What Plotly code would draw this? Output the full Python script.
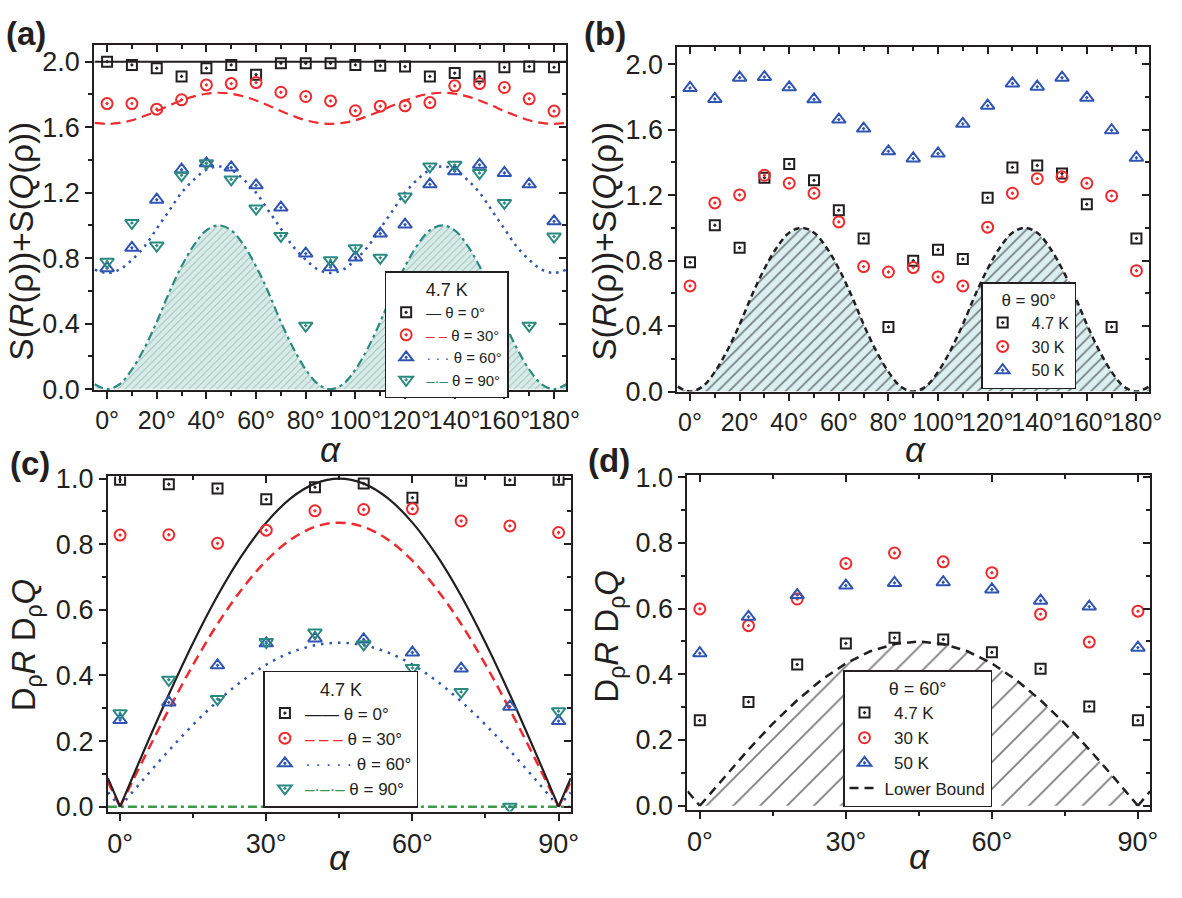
import plotly.graph_objects as go

# ---------------- data ----------------
alpha_ab = [0, 10, 20, 30, 40, 50, 60, 70, 80, 90, 100, 110, 120, 130, 140, 150, 160, 170, 180]
a_theta0 = [2.00, 1.98, 1.96, 1.91, 1.96, 1.98, 1.92, 1.99, 1.99, 1.99, 1.98, 1.975, 1.97, 1.91, 1.93, 1.91, 1.965, 1.97, 1.965]
a_theta30 = [1.744, 1.744, 1.71, 1.767, 1.858, 1.866, 1.872, 1.813, 1.787, 1.76, 1.70, 1.728, 1.73, 1.75, 1.852, 1.866, 1.842, 1.773, 1.698]
a_theta60 = [0.739, 0.863, 1.157, 1.34, 1.379, 1.354, 1.245, 1.109, 0.828, 0.745, 0.804, 0.95, 1.005, 1.251, 1.33, 1.37, 1.32, 1.251, 1.025]
a_theta90 = [0.778, 1.015, 0.877, 1.306, 1.379, 1.281, 1.103, 0.936, 0.388, 0.788, 0.861, 0.802, 1.176, 1.36, 1.37, 1.32, 1.137, 0.388, 0.932]

b_T47 = [0.789, 1.016, 0.878, 1.306, 1.39, 1.29, 1.108, 0.935, 0.394, 0.799, 0.866, 0.809, 1.183, 1.369, 1.381, 1.331, 1.144, 0.394, 0.935]
b_T30 = [0.645, 1.152, 1.201, 1.321, 1.272, 1.211, 1.036, 0.763, 0.730, 0.757, 0.700, 0.645, 1.004, 1.211, 1.30, 1.312, 1.272, 1.195, 0.738]
b_T50 = [1.854, 1.787, 1.917, 1.921, 1.858, 1.785, 1.661, 1.606, 1.467, 1.424, 1.454, 1.635, 1.746, 1.882, 1.862, 1.917, 1.795, 1.596, 1.428]

# theory curves for (a)/(b), sampled every 5 degrees
alpha_ab_fine = [-5, 0, 5, 10, 15, 20, 25, 30, 35, 40, 45, 50, 55, 60, 65, 70, 75, 80, 85, 90,
                 95, 100, 105, 110, 115, 120, 125, 130, 135, 140, 145, 150, 155, 160, 165, 170, 175, 180, 185]
a_line0_x = [-5, 185]
a_line0_y = [2.0, 2.0]
a_line30 = [1.626, 1.62, 1.626, 1.642, 1.668, 1.698, 1.732, 1.763, 1.788, 1.804, 1.81, 1.804, 1.788, 1.763, 1.732, 1.698, 1.668, 1.642, 1.626, 1.62,
            1.626, 1.642, 1.668, 1.698, 1.732, 1.763, 1.788, 1.804, 1.81, 1.804, 1.788, 1.763, 1.732, 1.698, 1.668, 1.642, 1.626, 1.62, 1.626]
a_line60 = [0.73, 0.71, 0.73, 0.79, 0.87, 0.98, 1.09, 1.20, 1.28, 1.34, 1.36, 1.34, 1.28, 1.20, 1.09, 0.98, 0.87, 0.79, 0.73, 0.71,
            0.73, 0.79, 0.87, 0.98, 1.09, 1.20, 1.28, 1.34, 1.36, 1.34, 1.28, 1.20, 1.09, 0.98, 0.87, 0.79, 0.73, 0.71, 0.73]
ab_bound = [0.03, 0.0, 0.03, 0.12, 0.25, 0.41, 0.59, 0.75, 0.88, 0.97, 1.0, 0.97, 0.88, 0.75, 0.59, 0.41, 0.25, 0.12, 0.03, 0.0,
            0.03, 0.12, 0.25, 0.41, 0.59, 0.75, 0.88, 0.97, 1.0, 0.97, 0.88, 0.75, 0.59, 0.41, 0.25, 0.12, 0.03, 0.0, 0.03]

alpha_cd = [0, 10, 20, 30, 40, 50, 60, 70, 80, 90]
c_theta0 = [0.997, 0.983, 0.970, 0.937, 0.974, 0.985, 0.942, 0.994, 0.996, 0.997]
c_theta30 = [0.828, 0.829, 0.803, 0.843, 0.902, 0.906, 0.908, 0.871, 0.856, 0.836]
c_theta60 = [0.264, 0.318, 0.431, 0.498, 0.513, 0.510, 0.470, 0.421, 0.305, 0.261]
c_theta90 = [0.285, 0.387, 0.328, 0.502, 0.531, 0.495, 0.423, 0.350, 0.0, 0.291]

d_T47 = [0.260, 0.316, 0.430, 0.494, 0.511, 0.506, 0.467, 0.417, 0.302, 0.260]
d_T30 = [0.599, 0.548, 0.629, 0.737, 0.769, 0.742, 0.709, 0.583, 0.498, 0.592]
d_T50 = [0.464, 0.575, 0.641, 0.670, 0.678, 0.680, 0.658, 0.624, 0.606, 0.481]

# theory curves for (c)/(d): edge pieces and main arch (gaps split the V corners)
alpha_cd_fine = [-2.5, 0, None, 0, 5, 10, 15, 20, 25, 30, 35, 40, 45, 50, 55, 60, 65, 70, 75, 80, 85, 90, None, 90, 92.5]
c_line0 = [0.087, 0.0, None, 0.0, 0.174, 0.342, 0.5, 0.643, 0.766, 0.866, 0.940, 0.985, 1.0, 0.985, 0.940, 0.866, 0.766, 0.643, 0.5, 0.342, 0.174, 0.0, None, 0.0, 0.087]
c_line30 = [0.075, 0.0, None, 0.0, 0.151, 0.296, 0.433, 0.557, 0.663, 0.75, 0.814, 0.853, 0.866, 0.853, 0.814, 0.75, 0.663, 0.557, 0.433, 0.296, 0.151, 0.0, None, 0.0, 0.075]
c_line60 = [0.044, 0.0, None, 0.0, 0.087, 0.171, 0.25, 0.321, 0.383, 0.433, 0.47, 0.492, 0.5, 0.492, 0.47, 0.433, 0.383, 0.321, 0.25, 0.171, 0.087, 0.0, None, 0.0, 0.044]
c_line90_x = [-2.5, 92.5]
c_line90_y = [0.0, 0.0]
d_lower_x = [0, 5, 10, 15, 20, 25, 30, 35, 40, 45, 50, 55, 60, 65, 70, 75, 80, 85, 90]
d_lower = [0.0, 0.087, 0.171, 0.25, 0.321, 0.383, 0.433, 0.47, 0.492, 0.5, 0.492, 0.47, 0.433, 0.383, 0.321, 0.25, 0.171, 0.087, 0.0]

# ticks
ab_xticks = [0, 20, 40, 60, 80, 100, 120, 140, 160, 180]
ab_xlabels = ["0°", "20°", "40°", "60°", "80°", "100°", "120°", "140°", "160°", "180°"]
ab_xminor = [10, 30, 50, 70, 90, 110, 130, 150, 170]
ab_yticks = [0.0, 0.4, 0.8, 1.2, 1.6, 2.0]
ab_ylabels = ["0.0", "0.4", "0.8", "1.2", "1.6", "2.0"]
ab_yminor = [0.2, 0.6, 1.0, 1.4, 1.8]
cd_xticks = [0, 30, 60, 90]
cd_xlabels = ["0°", "30°", "60°", "90°"]
cd_xminor = [15, 45, 75]
cd_yticks = [0.0, 0.2, 0.4, 0.6, 0.8, 1.0]
cd_ylabels = ["0.0", "0.2", "0.4", "0.6", "0.8", "1.0"]
cd_yminor = [0.1, 0.3, 0.5, 0.7, 0.9]

# ---------------- style ----------------
W, H = 1182, 898
FONT = "Liberation Sans, Arial, sans-serif"
BLACK = "#231f20"
RED = "#ee2a2e"
BLUE = "#2f54b2"
TEAL = "#2a8a80"
GREEN = "#3b9a4a"

fig = go.Figure()


def mk(symbol, color, size=11):
    return dict(symbol=symbol, size=size, color=color, line=dict(width=2, color=color))


SQ, CI, TU, TD = "square-open-dot", "circle-open-dot", "triangle-up-open-dot", "triangle-down-open-dot"


def lg(glyph, color, label):
    return '<span style="color:%s">%s</span> %s' % (color, glyph, label)


# ---- panel (a)
fig.add_trace(go.Scatter(x=alpha_ab_fine, y=ab_bound, mode="lines", line=dict(width=0, shape="spline"),
                         fill="tozeroy", fillcolor="#d6ece8",
                         fillpattern=dict(shape="/", fgcolor="#7a8c89", bgcolor="#d6ece8", size=5, solidity=0.18),
                         showlegend=False, hoverinfo="skip", xaxis="x", yaxis="y"))
fig.add_trace(go.Scatter(x=alpha_ab_fine, y=ab_bound, mode="lines",
                         line=dict(color=TEAL, width=2.2, dash="9px,4px,3px,4px", shape="spline"),
                         showlegend=False, xaxis="x", yaxis="y"))
fig.add_trace(go.Scatter(x=alpha_ab_fine, y=a_line60, mode="lines",
                         line=dict(color=BLUE, width=2.5, dash="2.5px,5px", shape="spline"),
                         showlegend=False, xaxis="x", yaxis="y"))
fig.add_trace(go.Scatter(x=alpha_ab_fine, y=a_line30, mode="lines",
                         line=dict(color=RED, width=2.2, dash="10px,6px", shape="spline"),
                         showlegend=False, xaxis="x", yaxis="y"))
fig.add_trace(go.Scatter(x=a_line0_x, y=a_line0_y, mode="lines", line=dict(color=BLACK, width=2),
                         showlegend=False, xaxis="x", yaxis="y"))
fig.add_trace(go.Scatter(x=alpha_ab, y=a_theta0, mode="markers", marker=mk(SQ, BLACK, 10),
                         name=lg("—", BLACK, "θ = 0°"), legend="legend", xaxis="x", yaxis="y"))
fig.add_trace(go.Scatter(x=alpha_ab, y=a_theta30, mode="markers", marker=mk(CI, RED, 11),
                         name=lg("– –", RED, "θ = 30°"), legend="legend", xaxis="x", yaxis="y"))
fig.add_trace(go.Scatter(x=alpha_ab, y=a_theta60, mode="markers", marker=mk(TU, BLUE, 12),
                         name=lg("· · ·", BLUE, "θ = 60°"), legend="legend", xaxis="x", yaxis="y"))
fig.add_trace(go.Scatter(x=alpha_ab, y=a_theta90, mode="markers", marker=mk(TD, TEAL, 12),
                         name=lg("–·–", TEAL, "θ = 90°"), legend="legend", xaxis="x", yaxis="y"))

# ---- panel (b)
fig.add_trace(go.Scatter(x=alpha_ab_fine, y=ab_bound, mode="lines", line=dict(width=0, shape="spline"),
                         fill="tozeroy", fillcolor="#dbeff0",
                         fillpattern=dict(shape="/", fgcolor="#111111", bgcolor="#dbeff0", size=8, solidity=0.22),
                         showlegend=False, hoverinfo="skip", xaxis="x2", yaxis="y2"))
fig.add_trace(go.Scatter(x=alpha_ab_fine, y=ab_bound, mode="lines",
                         line=dict(color=BLACK, width=2.5, dash="6px,4px", shape="spline"),
                         showlegend=False, xaxis="x2", yaxis="y2"))
fig.add_trace(go.Scatter(x=alpha_ab, y=b_T47, mode="markers", marker=mk(SQ, BLACK, 10),
                         name="  4.7 K", legend="legend2", xaxis="x2", yaxis="y2"))
fig.add_trace(go.Scatter(x=alpha_ab, y=b_T30, mode="markers", marker=mk(CI, RED, 11),
                         name="  30 K", legend="legend2", xaxis="x2", yaxis="y2"))
fig.add_trace(go.Scatter(x=alpha_ab, y=b_T50, mode="markers", marker=mk(TU, BLUE, 12),
                         name="  50 K", legend="legend2", xaxis="x2", yaxis="y2"))

# ---- panel (c)
fig.add_trace(go.Scatter(x=c_line90_x, y=c_line90_y, mode="lines",
                         line=dict(color=GREEN, width=2.5, dash="9px,4px,3px,4px"),
                         showlegend=False, xaxis="x3", yaxis="y3"))
fig.add_trace(go.Scatter(x=alpha_cd_fine, y=c_line60, mode="lines",
                         line=dict(color=BLUE, width=2.5, dash="2.5px,6px", shape="spline"),
                         showlegend=False, xaxis="x3", yaxis="y3"))
fig.add_trace(go.Scatter(x=alpha_cd_fine, y=c_line30, mode="lines",
                         line=dict(color=RED, width=2.5, dash="10px,6px", shape="spline"),
                         showlegend=False, xaxis="x3", yaxis="y3"))
fig.add_trace(go.Scatter(x=alpha_cd_fine, y=c_line0, mode="lines",
                         line=dict(color=BLACK, width=2.2, shape="spline"),
                         showlegend=False, xaxis="x3", yaxis="y3"))
fig.add_trace(go.Scatter(x=alpha_cd, y=c_theta0, mode="markers", marker=mk(SQ, BLACK, 10),
                         name=lg("——", BLACK, "θ = 0°"), legend="legend3", xaxis="x3", yaxis="y3"))
fig.add_trace(go.Scatter(x=alpha_cd, y=c_theta30, mode="markers", marker=mk(CI, RED, 11),
                         name=lg("– – –", RED, "θ = 30°"), legend="legend3", xaxis="x3", yaxis="y3"))
fig.add_trace(go.Scatter(x=alpha_cd, y=c_theta60, mode="markers", marker=mk(TU, BLUE, 12),
                         name=lg("· · · · ·", BLUE, "θ = 60°"), legend="legend3", xaxis="x3", yaxis="y3"))
fig.add_trace(go.Scatter(x=alpha_cd, y=c_theta90, mode="markers", marker=mk(TD, TEAL, 12),
                         name=lg("–·–·–", GREEN, "θ = 90°"), legend="legend3", xaxis="x3", yaxis="y3"))

# ---- panel (d)
fig.add_trace(go.Scatter(x=d_lower_x, y=d_lower, mode="lines", line=dict(width=0),
                         fill="tozeroy", fillcolor="white",
                         fillpattern=dict(shape="/", fgcolor="#000000", bgcolor="white", size=19, solidity=0.1),
                         showlegend=False, hoverinfo="skip", xaxis="x4", yaxis="y4"))
fig.add_trace(go.Scatter(x=alpha_cd_fine, y=c_line60, mode="lines",
                         line=dict(color=BLACK, width=2.5, dash="9px,6px"),
                         name="Lower Bound", legend="legend4", legendrank=2000, xaxis="x4", yaxis="y4"))
fig.add_trace(go.Scatter(x=alpha_cd, y=d_T47, mode="markers", marker=mk(SQ, BLACK, 10),
                         name="  4.7 K", legend="legend4", legendrank=1000, xaxis="x4", yaxis="y4"))
fig.add_trace(go.Scatter(x=alpha_cd, y=d_T30, mode="markers", marker=mk(CI, RED, 11),
                         name="  30 K", legend="legend4", legendrank=1001, xaxis="x4", yaxis="y4"))
fig.add_trace(go.Scatter(x=alpha_cd, y=d_T50, mode="markers", marker=mk(TU, BLUE, 12),
                         name="  50 K", legend="legend4", legendrank=1002, xaxis="x4", yaxis="y4"))

# ---------------- axes ----------------
PANELS = [
    dict(k=1, xpx=(95.3, 573.0), ypx=(33.3, 389.3), xr=[-5.2, 184.9], yr=[-0.006, 2.1], xfs=25,
         xt=ab_xticks, xl=ab_xlabels, xm=ab_xminor, yt=ab_yticks, yl=ab_ylabels, ym=ab_yminor),
    dict(k=2, xpx=(685.5, 1163.1), ypx=(35.0, 390.7), xr=[-5.1, 185.2], yr=[0.0, 2.105], xfs=25,
         xt=ab_xticks, xl=ab_xlabels, xm=ab_xminor, yt=ab_yticks, yl=ab_ylabels, ym=ab_yminor),
    dict(k=3, xpx=(109.1, 577.6), ypx=(478.3, 824.3), xr=[-2.52, 92.5], yr=[-0.015, 1.007], xfs=27,
         xt=cd_xticks, xl=cd_xlabels, xm=cd_xminor, yt=cd_yticks, yl=cd_ylabels, ym=cd_yminor),
    dict(k=4, xpx=(695.7, 1163.9), ypx=(477.3, 822.7), xr=[-2.54, 92.5], yr=[-0.013, 1.005], xfs=27,
         xt=cd_xticks, xl=cd_xlabels, xm=cd_xminor, yt=cd_yticks, yl=cd_ylabels, ym=cd_yminor),
]

layout = dict(width=W, height=H, autosize=False, margin=dict(l=0, r=0, t=0, b=0),
              paper_bgcolor="white", plot_bgcolor="white", font=dict(family=FONT, color=BLACK),
              showlegend=True, annotations=[])


def sfx(n):
    return "" if n == 1 else str(n)


for p in PANELS:
    k = p["k"]
    xd = [p["xpx"][0] / W, p["xpx"][1] / W]
    yd = [1 - p["ypx"][1] / H, 1 - p["ypx"][0] / H]
    common = dict(showgrid=False, zeroline=False, tickmode="array", tickcolor=BLACK, tickwidth=2)
    layout["xaxis" + sfx(k)] = dict(common, domain=xd, range=p["xr"], anchor="y" + sfx(k),
                                    tickvals=p["xt"], ticktext=p["xl"], ticks="outside", ticklen=7,
                                    tickangle=0,
                                    showline=True, linewidth=2, linecolor=BLACK, mirror=True,
                                    tickfont=dict(family=FONT, size=p["xfs"], color=BLACK),
                                    minor=dict(tickmode="array", tickvals=p["xm"], ticks="outside", ticklen=4,
                                               tickwidth=2, tickcolor=BLACK, showgrid=False))
    layout["yaxis" + sfx(k)] = dict(common, domain=yd, range=p["yr"], anchor="x" + sfx(k),
                                    tickvals=p["yt"], ticktext=p["yl"], ticks="outside", ticklen=7,
                                    showline=True, linewidth=2, linecolor=BLACK, mirror=True,
                                    tickfont=dict(family=FONT, size=27, color=BLACK),
                                    minor=dict(tickmode="array", tickvals=p["ym"], ticks="outside", ticklen=4,
                                               tickwidth=2, tickcolor=BLACK, showgrid=False))
    # mirrored inside ticks on top / right
    layout["xaxis" + str(k + 4)] = dict(common, overlaying="x" + sfx(k), anchor="y" + sfx(k), side="top",
                                        range=p["xr"], tickvals=p["xt"], ticks="inside", ticklen=7,
                                        showticklabels=False, showline=False,
                                        minor=dict(tickmode="array", tickvals=p["xm"], ticks="inside", ticklen=4,
                                                   tickwidth=2, tickcolor=BLACK, showgrid=False))
    layout["yaxis" + str(k + 4)] = dict(common, overlaying="y" + sfx(k), anchor="x" + sfx(k), side="right",
                                        range=p["yr"], tickvals=p["yt"], ticks="inside", ticklen=7,
                                        showticklabels=False, showline=False,
                                        minor=dict(tickmode="array", tickvals=p["ym"], ticks="inside", ticklen=4,
                                                   tickwidth=2, tickcolor=BLACK, showgrid=False))
    fig.add_trace(go.Scatter(x=[None], y=[None], xaxis="x" + str(k + 4), yaxis="y" + sfx(k),
                             showlegend=False, hoverinfo="skip"))
    fig.add_trace(go.Scatter(x=[None], y=[None], xaxis="x" + sfx(k), yaxis="y" + str(k + 4),
                             showlegend=False, hoverinfo="skip"))


# ---------------- legends ----------------
def legend_box(cx, cy, title, size, tsize):
    return dict(x=cx / W, y=1 - cy / H, xanchor="center", yanchor="middle", bgcolor="white",
                bordercolor=BLACK, borderwidth=1.5, itemwidth=30, tracegroupgap=0,
                font=dict(family=FONT, size=size, color=BLACK),
                title=dict(text=title, side="top center", font=dict(family=FONT, size=tsize, color=BLACK)))


layout["legend"] = legend_box(452, 332, "4.7 K", 15, 18)
layout["legend2"] = legend_box(1041, 333, "θ = 90°", 16, 17)
layout["legend3"] = legend_box(345, 749.5, "4.7 K", 17, 18)
layout["legend4"] = legend_box(928.5, 749, "θ = 60°", 17, 18)

# ---------------- annotations ----------------
ann = layout["annotations"]


def txt(xpx, ypx, text, size, angle=0, bold=False):
    ann.append(dict(x=xpx / W, y=1 - ypx / H, xref="paper", yref="paper",
                    text=("<b>%s</b>" % text) if bold else text,
                    showarrow=False, xanchor="center", yanchor="middle", textangle=angle,
                    font=dict(family=FONT, size=size, color=BLACK)))


txt(26, 21, "(a)", 33, bold=True)
txt(612, 21, "(b)", 33, bold=True)
txt(30, 465, "(c)", 33, bold=True)
txt(616, 462, "(d)", 33, bold=True)
txt(334, 451, "<i>α</i>", 35)
txt(926, 451, "<i>α</i>", 35)
txt(344, 872, "<i>α</i>", 35)
txt(931, 871, "<i>α</i>", 35)
txt(22, 236, "S(<i>R</i>(ρ))+S(<i>Q</i>(ρ))", 33, angle=-90)
txt(612, 236, "S(<i>R</i>(ρ))+S(<i>Q</i>(ρ))", 33, angle=-90)
txt(26, 652, "D<sub>ρ</sub><i>R</i> D<sub>ρ</sub><i>Q</i>", 33, angle=-90)
txt(616, 643, "D<sub>ρ</sub><i>R</i> D<sub>ρ</sub><i>Q</i>", 33, angle=-90)

fig.update_layout(**layout)
fig.write_html("out.html")
